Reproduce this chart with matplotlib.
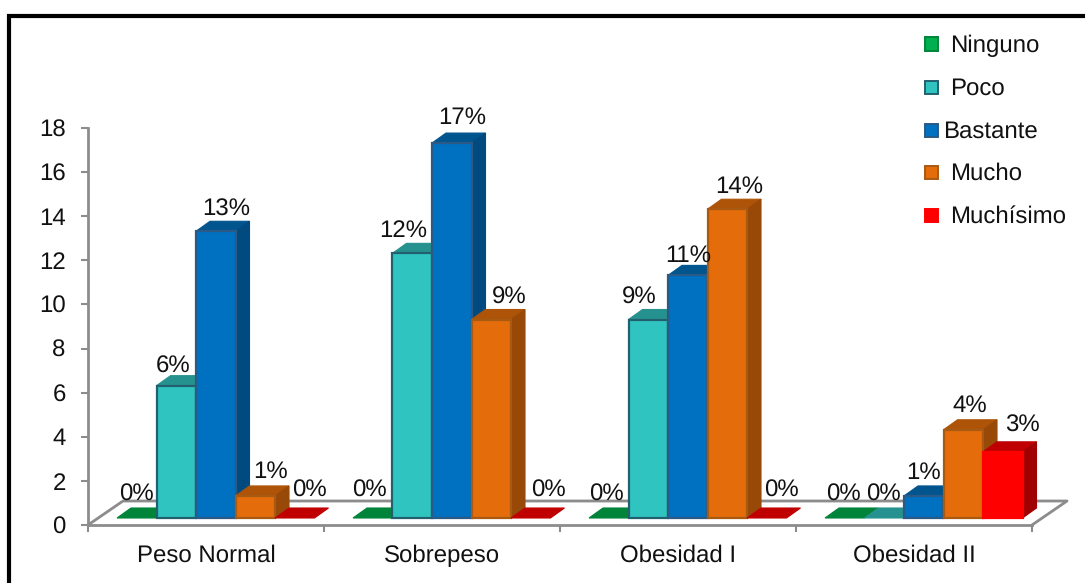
#!/usr/bin/env python
# -*- coding:utf-8 -*-
import matplotlib
matplotlib.use("Agg")
import matplotlib.pyplot as plt
from matplotlib.lines import Line2D
from matplotlib.patches import Polygon, Rectangle

categories = ["Peso Normal", "Sobrepeso", "Obesidad I", "Obesidad II"]
series_names = ["Ninguno", "Poco", "Bastante", "Mucho", "Muchísimo"]
ninguno = [0, 0, 0, 0]
poco = [6, 12, 9, 0]
bastante = [13, 17, 11, 1]
mucho = [1, 9, 14, 4]
muchisimo = [0, 0, 0, 3]
yticks = list(range(0, 20, 2))

# front, top, side, edge
colors = [
    ("#00B050", "#00843A", "#00843A", "#00843A"),
    ("#2FC4BF", "#25928F", "#1F7F7C", "#23606F"),
    ("#0070C0", "#00558F", "#004A80", "#2A5A85"),
    ("#E46C0A", "#AD5408", "#984807", "#A85A12"),
    ("#FF0000", "#C00000", "#A00000", "#FF0000"),
]

# label nudges in pixels (dx, dy above the bar's front top edge), per group and series
label_nudge = [
    [(0, 17), (-3, 13), (10, 16), (15, 18), (15, 21)],
    [(-3, 21), (-9, 16), (10, 19), (18, 16), (18, 21)],
    [(-2, 17), (-9, 16), (0, 14), (12, 16), (15, 21)],
    [(-1, 17), (-1, 17), (0, 17), (7, 18), (20, 20)],
]

W, H = 1085, 583
FS = 17
GRAY = "#8C8C8C"


def fx(px):
    return px / W


def fy(py):
    return 1 - py / H


plt.rcParams["font.family"] = ["Liberation Sans", "DejaVu Sans"]
plt.rcParams["text.hinting"] = "none"
plt.rcParams["text.hinting_factor"] = 1
fig = plt.figure(figsize=(W / 100, H / 100), dpi=100, facecolor="white")
ax = fig.add_axes([fx(88), fy(525), (1032 - 88) / W, (525 - 128) / H])
ax.set_xlim(0, 4)
ax.set_ylim(0, 18)

# scale of the axes, used for the oblique depth of floor and bars
ux = (1032 - 88) / 4
uy = (525 - 128) / 18
floor_dx, floor_dy = 35 / ux, 24 / uy
depth_dx, depth_dy = 14 / ux, 10 / uy
base = 7 / uy
bar_w = 39.5 / ux
start = 29 / ux

ax.add_line(Line2D([0, floor_dx, 4 + floor_dx, 4], [0, floor_dy, floor_dy, 0],
                   color=GRAY, lw=2, clip_on=False, zorder=1))

values = [ninguno, poco, bastante, mucho, muchisimo]
z = 2
for g in range(len(categories)):
    for s in range(len(series_names)):
        v = values[s][g]
        front, top, side, edge = colors[s]
        x0 = g + start + s * bar_w
        x1 = x0 + bar_w
        y0 = base
        y1 = base + v
        ax.add_patch(Polygon([(x0, y1), (x1, y1), (x1 + depth_dx, y1 + depth_dy), (x0 + depth_dx, y1 + depth_dy)],
                             facecolor=top, edgecolor=top, lw=0.8, clip_on=False, zorder=z))
        if v > 0:
            ax.add_patch(Polygon([(x1, y0), (x1 + depth_dx, y0 + depth_dy), (x1 + depth_dx, y1 + depth_dy), (x1, y1)],
                                 facecolor=side, edgecolor=side, lw=0.8, clip_on=False, zorder=z))
            ax.add_patch(Rectangle((x0, y0), bar_w, v, facecolor=front, edgecolor=edge,
                                   lw=1.6, clip_on=False, zorder=z + 1))
        z += 2

# value labels go above everything
for g in range(len(categories)):
    for s in range(len(series_names)):
        v = values[s][g]
        nx, ny = label_nudge[g][s]
        xc = g + start + (s + 0.5) * bar_w
        ax.annotate(f"{v}%", xy=(xc, base + v), xytext=(nx * 0.72, ny * 0.72),
                    textcoords="offset points", ha="center", va="baseline",
                    fontsize=FS, color="#111111", annotation_clip=False, zorder=100)

for name in ["top", "right"]:
    ax.spines[name].set_visible(False)
for name in ["left", "bottom"]:
    ax.spines[name].set_color(GRAY)
    ax.spines[name].set_linewidth(2)
    ax.spines[name].set_zorder(1.5)
ax.patch.set_alpha(0)

ax.set_yticks(yticks)
ax.set_yticklabels([str(t) for t in yticks], fontsize=FS, color="#111111")
ax.set_xticks(range(len(categories) + 1))
ax.set_xticklabels([])
ax.set_xticks([i + 0.5 for i in range(len(categories))], minor=True)
ax.set_xticklabels(categories, minor=True, fontsize=FS, color="#111111")
ax.tick_params(axis="y", length=5, width=1.5, color=GRAY, pad=11)
ax.tick_params(axis="x", which="major", length=5, width=1.5, color=GRAY)
ax.tick_params(axis="x", which="minor", length=0, pad=14)

# legend, laid out by hand because Bastante sits closer to its key
legend_y = [43, 86, 129, 171, 214]
legend_text_x = [950, 950, 943, 950, 950]
for i, name in enumerate(series_names):
    front, top, side, edge = colors[i]
    fig.add_artist(Rectangle((fx(925), fy(legend_y[i] + 7.5)), 13 / W, 13 / H,
                             transform=fig.transFigure, facecolor=front, edgecolor=edge, lw=1.4))
    fig.text(fx(legend_text_x[i]), fy(legend_y[i]), name, fontsize=FS, color="#111111",
             ha="left", va="center_baseline")

# black frame, only top and left are inside the canvas
fig.add_artist(Line2D([fx(9), fx(9), 1], [0, fy(16), fy(16)], color="black", lw=3,
                      transform=fig.transFigure, solid_joinstyle="miter"))

fig.savefig("out.png", dpi=100)
